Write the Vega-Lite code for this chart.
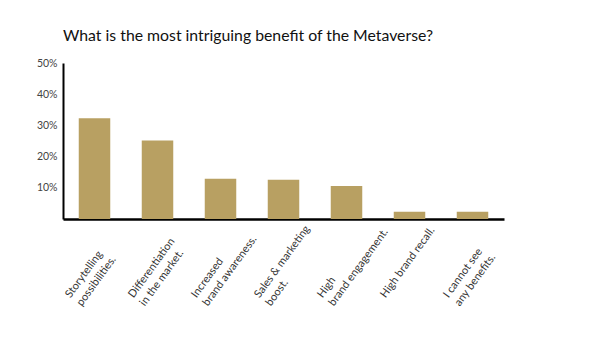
{
  "$schema": "https://vega.github.io/schema/vega-lite/v6.json",
  "autosize": "none",
  "width": 441,
  "height": 156,
  "padding": {"left": 63, "top": 63, "right": 96, "bottom": 128},
  "background": "white",
  "title": {
    "text": "What is the most intriguing benefit of the Metaverse?",
    "anchor": "start",
    "frame": "group",
    "font": "Lato",
    "fontSize": 15.8,
    "fontWeight": "normal",
    "color": "#111111",
    "offset": 13
  },
  "data": {
    "values": [
      {"label": "Storytelling|possibilities.", "value": 32.3},
      {"label": "Differentiation|in the market.", "value": 25.2},
      {"label": "Increased|brand awareness.", "value": 12.9},
      {"label": "Sales & marketing|boost.", "value": 12.6},
      {"label": "High|brand engagement.", "value": 10.6},
      {"label": "High brand recall.", "value": 2.3},
      {"label": "I cannot see|any benefits.", "value": 2.3}
    ]
  },
  "mark": {"type": "bar", "color": "#B8A062"},
  "encoding": {
    "x": {
      "field": "label",
      "type": "nominal",
      "sort": null,
      "scale": {"paddingInner": 0.5, "paddingOuter": 0.25},
      "axis": {
        "title": null,
        "labelExpr": "split(datum.label, '|')",
        "labelAngle": -54,
        "labelAlign": "left",
        "labelBaseline": "alphabetic",
        "labelFont": "Lato",
        "labelFontSize": 11,
        "labelColor": "#333333",
        "labelPadding": 79,
        "labelOffset": -24,
        "labelLineHeight": 14,
        "labelOverlap": false,
        "ticks": false,
        "domainColor": "#000000",
        "domainWidth": 2.5,
        "grid": false
      }
    },
    "y": {
      "field": "value",
      "type": "quantitative",
      "scale": {"domain": [0, 50]},
      "axis": {
        "title": null,
        "values": [10, 20, 30, 40, 50],
        "labelExpr": "datum.value + '%'",
        "labelFont": "Lato",
        "labelFontSize": 10.5,
        "labelColor": "#444444",
        "labelPadding": 6,
        "ticks": false,
        "grid": false,
        "domainColor": "#000000",
        "domainWidth": 2
      }
    }
  },
  "config": {"view": {"stroke": null}}
}
